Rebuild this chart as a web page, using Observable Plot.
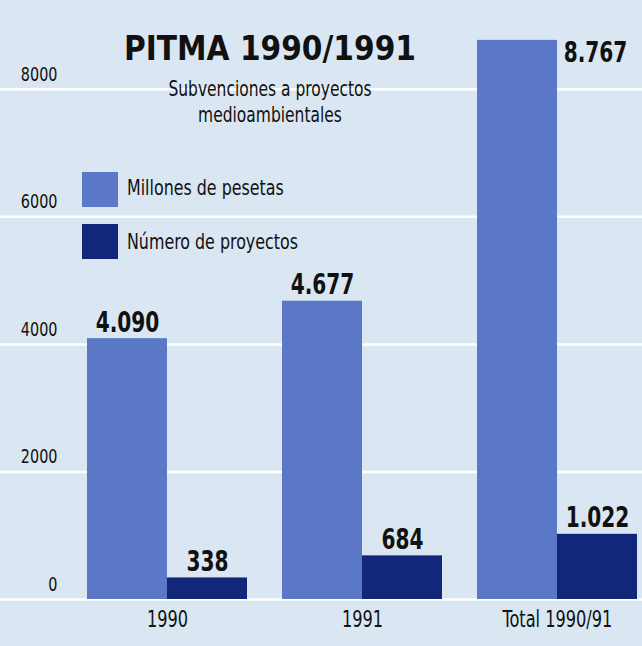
<!DOCTYPE html>
<html>
<head>
<meta charset="utf-8">
<script src="https://cdn.jsdelivr.net/npm/d3@7"></script>
<script src="https://cdn.jsdelivr.net/npm/@observablehq/plot@0.6"></script>
<style>
  body { margin: 0; background: #fff; }
  #wrap { position: relative; width: 642px; height: 646px; background: #dae7f3; overflow: hidden; }
  .narrow { font-family: "DejaVu Sans Condensed", "DejaVu Sans", sans-serif; font-stretch: condensed; color: #111; }
  #title { position: absolute; left: 100px; width: 340px; top: 31px; text-align: center;
    font-family: "DejaVu Sans Condensed", "DejaVu Sans", sans-serif; font-stretch: condensed;
    font-weight: bold; font-size: 33px; line-height: 36px; color: #111; }
  #subtitle { position: absolute; left: 120px; width: 300px; top: 76px; text-align: center; font-size: 21px; line-height: 26px;
    transform: scaleX(0.82); transform-origin: 150px 0; }
  .sw { position: absolute; left: 82px; width: 36px; height: 35px; }
  .lg { position: absolute; left: 127px; font-size: 21px; line-height: 24px; transform: scaleX(0.84); transform-origin: 0 0; white-space: nowrap; }
</style>
</head>
<body>
<div id="wrap">
  <div id="chart"></div>
  <div id="title">PITMA 1990/1991</div>
  <div id="subtitle" class="narrow">Subvenciones a proyectos<br>medioambientales</div>
  <div class="sw" id="sw1" style="top:172px;"></div>
  <div class="lg narrow" id="lg1" style="top:176px;"></div>
  <div class="sw" id="sw2" style="top:224px;"></div>
  <div class="lg narrow" id="lg2" style="top:230px;"></div>
</div>
<script>
const categories = ["1990", "1991", "Total 1990/91"];
const millones = [4090, 4677, 8767];
const proyectos = [338, 684, 1022];
const millonesLabels = ["4.090", "4.677", "8.767"];
const proyectosLabels = ["338", "684", "1.022"];
const yTicks = [0, 2000, 4000, 6000, 8000];
const seriesNames = ["Millones de pesetas", "Número de proyectos"];
const seriesColors = ["#5a78c6", "#12267a"];

const rows = categories.map((c, i) => ({
  cat: c, millones: millones[i], proyectos: proyectos[i],
  mLabel: millonesLabels[i], pLabel: proyectosLabels[i]
}));

const narrowFont = '"DejaVu Sans Condensed", "DejaVu Sans", sans-serif';

const chart = Plot.plot({
  width: 642,
  height: 646,
  marginTop: 25,
  marginBottom: 47,
  marginLeft: 0,
  marginRight: 0,
  style: { background: "transparent", fontFamily: narrowFont, fontSize: "21px", color: "#111" },
  x: { domain: categories, range: [87, 637], paddingInner: 0.1795, paddingOuter: 0, axis: null },
  y: { domain: [0, 9000], axis: null },
  marks: [
    Plot.ruleY(yTicks, { stroke: "white", strokeWidth: 2.5 }),
    Plot.axisY(yTicks, { anchor: "left", tickSize: 0, tickPadding: 0, dx: 57, dy: -15, textAnchor: "end",
      tickFormat: d => String(d), fontSize: 20, fill: "#111", label: null }),
    Plot.barY(rows, { x: "cat", y: "millones", fill: seriesColors[0], insetRight: 80 }),
    Plot.barY(rows, { x: "cat", y: "proyectos", fill: seriesColors[1], insetLeft: 80 }),
    Plot.text(rows.slice(0, 2), { x: "cat", y: "millones", text: "mLabel", dx: -40, dy: -7,
      lineAnchor: "bottom", fontSize: 28, fontWeight: "bold", fill: "#111" }),
    Plot.text(rows.slice(2), { x: "cat", y: "millones", text: "mLabel", dx: 38, dy: 22,
      lineAnchor: "bottom", fontSize: 28, fontWeight: "bold", fill: "#111" }),
    Plot.text(rows, { x: "cat", y: "proyectos", text: "pLabel", dx: 40, dy: -7,
      lineAnchor: "bottom", fontSize: 28, fontWeight: "bold", fill: "#111" }),
    Plot.axisX(categories, { anchor: "bottom", tickSize: 0, tickPadding: 12, fontSize: 22.5, fill: "#111", label: null })
  ]
});

// horizontally condense every text around its own anchor point
d3.select(chart).selectAll("text").each(function () {
  const t = this.getAttribute("transform") || "";
  const x = +this.getAttribute("x") || 0;
  const y = +this.getAttribute("y") || 0;
  this.setAttribute("transform", `${t} translate(${x},${y}) scale(0.8,1) translate(${-x},${-y})`);
});

document.getElementById("chart").appendChild(chart);

document.getElementById("sw1").style.background = seriesColors[0];
document.getElementById("sw2").style.background = seriesColors[1];
document.getElementById("lg1").textContent = seriesNames[0];
document.getElementById("lg2").textContent = seriesNames[1];
</script>
</body>
</html>
